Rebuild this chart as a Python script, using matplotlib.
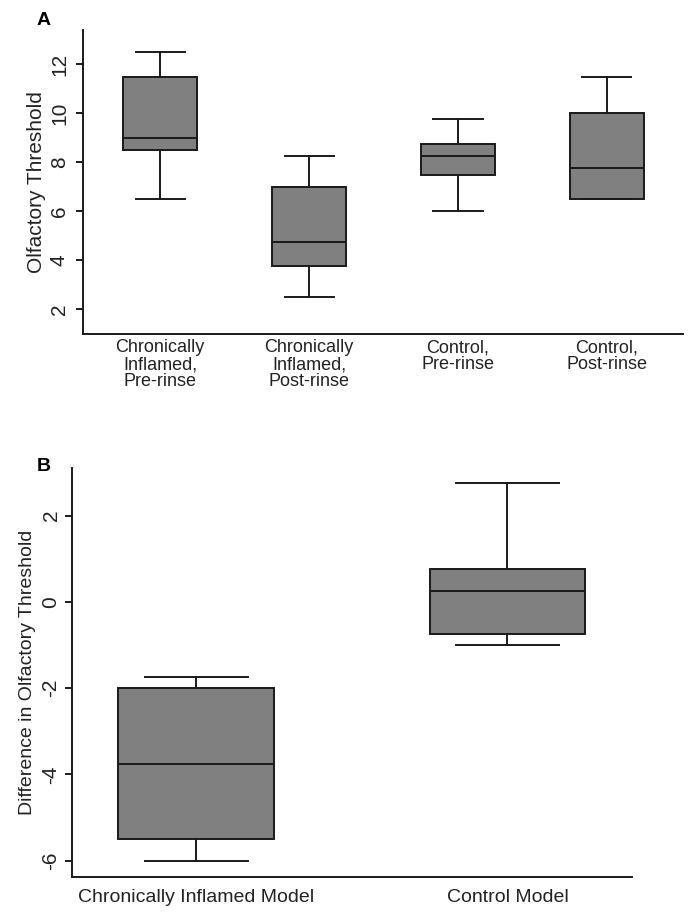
import matplotlib
matplotlib.use("Agg")
import matplotlib.pyplot as plt

plt.rcParams["font.family"] = ["Liberation Sans", "DejaVu Sans"]
plt.rcParams["axes.unicode_minus"] = False

# panel A: olfactory threshold per group
groups_a = [
    "Chronically\nInflamed,\nPre-rinse",
    "Chronically\nInflamed,\nPost-rinse",
    "Control,\nPre-rinse",
    "Control,\nPost-rinse",
]
whislo_a = [6.5, 2.5, 6.0, 6.5]
q1_a = [8.5, 3.75, 7.5, 6.5]
med_a = [9.0, 4.75, 8.25, 7.75]
q3_a = [11.5, 7.0, 8.75, 10.0]
whishi_a = [12.5, 8.25, 9.75, 11.5]

# panel B: difference in olfactory threshold
groups_b = ["Chronically Inflamed Model", "Control Model"]
whislo_b = [-6.0, -1.0]
q1_b = [-5.5, -0.75]
med_b = [-3.75, 0.25]
q3_b = [-2.0, 0.75]
whishi_b = [-1.75, 2.75]

box_color = "#808080"
line_color = "#1a1a1a"
lw = 1.4


def make_stats(labels, lo, q1, med, q3, hi):
    return [
        {"label": l, "whislo": a, "q1": b, "med": c, "q3": d, "whishi": e, "fliers": []}
        for l, a, b, c, d, e in zip(labels, lo, q1, med, q3, hi)
    ]


def draw_box(ax, stats, ypad):
    ax.bxp(
        stats,
        widths=0.5,
        patch_artist=True,
        showfliers=False,
        boxprops=dict(facecolor=box_color, edgecolor=line_color, linewidth=lw),
        medianprops=dict(color=line_color, linewidth=lw),
        whiskerprops=dict(color=line_color, linewidth=lw),
        capprops=dict(color=line_color, linewidth=lw),
        capwidths=0.33,
    )
    for side in ["top", "right"]:
        ax.spines[side].set_visible(False)
    for side in ["left", "bottom"]:
        ax.spines[side].set_linewidth(lw)
        ax.spines[side].set_color(line_color)
    ax.tick_params(axis="x", length=0, pad=4, labelsize=13, labelcolor="#222222")
    ax.tick_params(axis="y", length=5, width=lw, color=line_color, labelsize=15,
                   labelcolor="#222222", labelrotation=90, pad=ypad)
    for t in ax.get_xticklabels():
        t.set_linespacing(1.0)


fig = plt.figure(figsize=(6.96, 9.21), dpi=100)

# panel A
ax1 = fig.add_axes([0.119, 0.6376, 0.862, 0.3298])
draw_box(ax1, make_stats(groups_a, whislo_a, q1_a, med_a, q3_a, whishi_a), ypad=5)
ax1.set_xlim(0.48, 4.51)
ax1.set_ylim(1.0, 13.4)
ax1.set_yticks([2, 4, 6, 8, 10, 12])
for t in ax1.get_yticklabels():
    t.set_va("center")
ax1.set_ylabel("Olfactory Threshold", fontsize=15, color="#222222", labelpad=2.5)
fig.text(0.053, 0.978, "A", fontsize=14, fontweight="bold", ha="left", va="center")

# panel B
ax2 = fig.add_axes([0.103, 0.0478, 0.805, 0.444])
draw_box(ax2, make_stats(groups_b, whislo_b, q1_b, med_b, q3_b, whishi_b), ypad=3)
ax2.set_xlim(0.6, 2.4)
ax2.set_ylim(-6.38, 3.1)
ax2.set_yticks([-6, -4, -2, 0, 2])
for t in ax2.get_yticklabels():
    t.set_va("center")
ax2.tick_params(axis="x", labelsize=14, pad=9)
ax2.set_ylabel("Difference in Olfactory Threshold", fontsize=14, color="#222222", labelpad=4)
fig.text(0.053, 0.493, "B", fontsize=14, fontweight="bold", ha="left", va="center")

fig.savefig("out.png", dpi=100)
